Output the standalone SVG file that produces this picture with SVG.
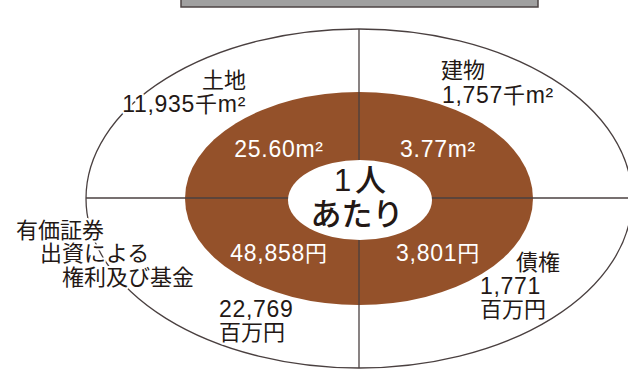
<svg xmlns="http://www.w3.org/2000/svg" width="628" height="370" viewBox="0 0 628 370">
<style>
text{font-family:"Liberation Sans","Noto Sans CJK JP",sans-serif;font-size:22px;fill:#231815}
.n{font-size:23px;letter-spacing:0.7px}
.k{font-size:22px}
.h{stroke:#fff;stroke-width:4;paint-order:stroke;stroke-linejoin:round}
.w{fill:#fff}
.ln{stroke:#4a4040;stroke-width:1.3;fill:none}
.c{font-size:31px;font-weight:500}
</style>
<rect width="628" height="370" fill="#fff"/>
<g id="bar"><rect x="181" y="-2" width="357" height="9" fill="#a0a0a0" stroke="#4d4444" stroke-width="1.5"/></g>
<g id="outer"><ellipse cx="359" cy="198.5" rx="273" ry="169.5" fill="#fff" stroke="#4a4040" stroke-width="1.3"/></g>
<g id="inner"><ellipse cx="359" cy="198.5" rx="174" ry="106.5" fill="#94512a"/></g>
<g id="connectors">
<line class="ln" x1="359" y1="29" x2="359" y2="368"/>
<line class="ln" x1="86" y1="198" x2="628" y2="198"/>
</g>
<g id="center"><ellipse cx="360" cy="200" rx="72" ry="40" fill="#fff"/>
<text class="c" x="362" y="191" text-anchor="middle" letter-spacing="4">1人</text>
<text class="c" x="357" y="225" text-anchor="middle">あたり</text></g>
<g id="land">
<text class="h" x="246" y="88" text-anchor="end">土地</text>
<text class="h n" x="246" y="112" text-anchor="end">11,935<tspan class="k">千</tspan>m²</text>
<text class="w n" x="279" y="157" text-anchor="middle">25.60m²</text>
</g>
<g id="building">
<text class="h" x="441" y="78">建物</text>
<text class="h n" x="442" y="103">1,757<tspan class="k">千</tspan>m²</text>
<text class="w n" x="438" y="157" text-anchor="middle">3.77m²</text>
</g>
<g id="securities">
<text class="h" x="16" y="238">有価証券</text>
<text class="h" x="40" y="261">出資による</text>
<text class="h" x="62" y="285">権利及び基金</text>
<text class="h n" x="219" y="317">22,769</text>
<text class="h" x="219" y="340">百万円</text>
<text class="w n" x="279" y="261" text-anchor="middle">48,858<tspan class="k">円</tspan></text>
</g>
<g id="bonds">
<text class="h" x="516" y="270">債権</text>
<text class="h n" x="480" y="294">1,771</text>
<text class="h" x="480" y="317">百万円</text>
<text class="w n" x="438" y="261" text-anchor="middle">3,801<tspan class="k">円</tspan></text>
</g>
</svg>
